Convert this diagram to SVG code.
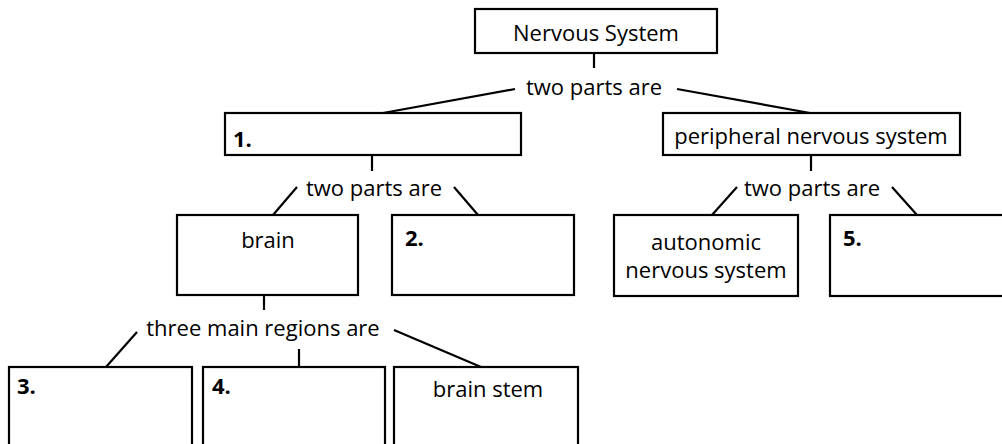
<svg xmlns="http://www.w3.org/2000/svg" width="1002" height="444" viewBox="0 0 1002 444">
<style>
.box{fill:#fff;stroke:#000;stroke-width:2.2}
.c{stroke:#000;stroke-width:2.2;fill:none}
text{font-family:"Open Sans","Noto Sans",sans-serif;font-size:22px;fill:#000}
.m{text-anchor:middle}
.b{font-weight:bold}
</style>
<rect width="1002" height="444" fill="#fff"/>
<g id="connectors">
<line class="c" x1="594" y1="53" x2="594" y2="68"/>
<line class="c" x1="515" y1="89" x2="383" y2="113"/>
<line class="c" x1="677" y1="89" x2="810" y2="113"/>
<line class="c" x1="372" y1="155" x2="372" y2="171"/>
<line class="c" x1="297" y1="187" x2="273" y2="215"/>
<line class="c" x1="454" y1="187" x2="478" y2="215"/>
<line class="c" x1="811" y1="155" x2="811" y2="171"/>
<line class="c" x1="737" y1="187" x2="712" y2="215"/>
<line class="c" x1="892" y1="187" x2="917" y2="215"/>
<line class="c" x1="264" y1="295" x2="264" y2="310"/>
<line class="c" x1="137" y1="332" x2="106" y2="367"/>
<line class="c" x1="394" y1="330" x2="481" y2="367"/>
<line class="c" x1="299" y1="349" x2="299" y2="367"/>
</g>
<g id="labels">
<text class="m" x="594" y="95">two parts are</text>
<text class="m" x="374" y="196">two parts are</text>
<text class="m" x="812" y="196">two parts are</text>
<text class="m" x="263" y="336">three main regions are</text>
</g>
<g id="n-nervous"><rect class="box" x="475" y="9" width="242" height="44"/><text class="m" x="596" y="41">Nervous System</text></g>
<g id="n-1"><rect class="box" x="225" y="113" width="296" height="42"/><text class="b" x="233" y="147">1.</text></g>
<g id="n-peripheral"><rect class="box" x="663" y="113" width="297" height="42"/><text class="m" x="811" y="144">peripheral nervous system</text></g>
<g id="n-brain"><rect class="box" x="177" y="215" width="181" height="80"/><text class="m" x="268" y="248">brain</text></g>
<g id="n-2"><rect class="box" x="392" y="215" width="182" height="80"/><text class="b" x="405" y="246">2.</text></g>
<g id="n-autonomic"><rect class="box" x="614" y="215" width="184" height="81"/><text class="m" x="706" y="250">autonomic</text><text class="m" x="706" y="278">nervous system</text></g>
<g id="n-5"><rect class="box" x="830" y="215" width="200" height="81"/><text class="b" x="843" y="246">5.</text></g>
<g id="n-3"><rect class="box" x="9" y="367" width="183" height="100"/><text class="b" x="17" y="394">3.</text></g>
<g id="n-4"><rect class="box" x="203" y="367" width="182" height="100"/><text class="b" x="212" y="394">4.</text></g>
<g id="n-brainstem"><rect class="box" x="394" y="367" width="184" height="100"/><text class="m" x="488" y="397">brain stem</text></g>
</svg>
